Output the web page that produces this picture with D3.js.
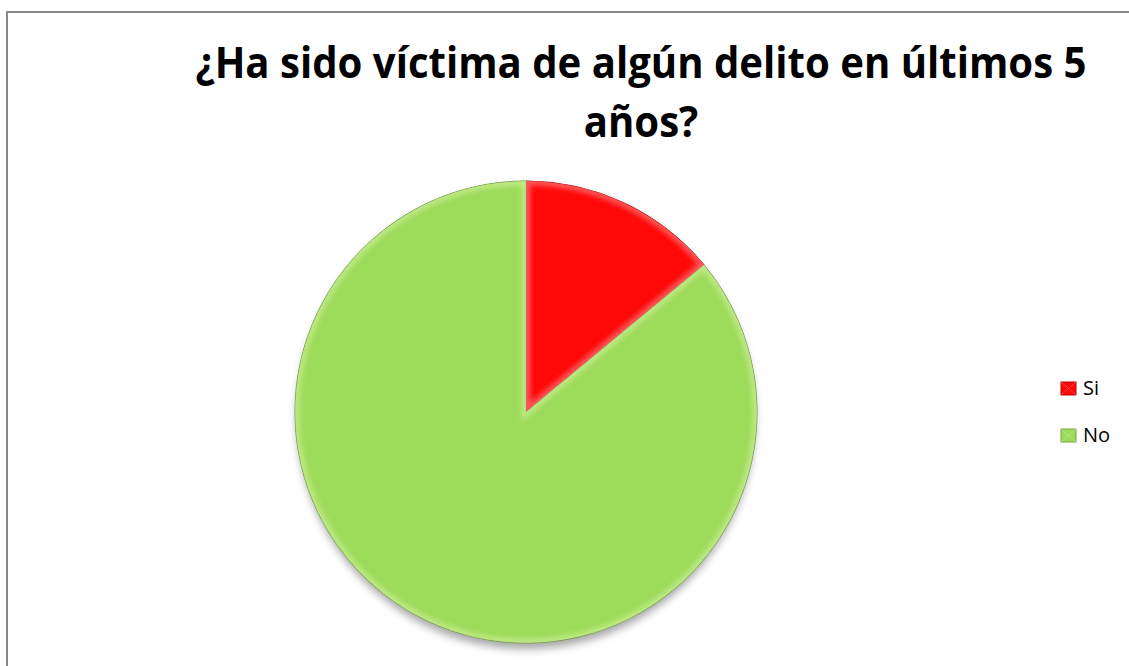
<!DOCTYPE html>
<html>
<head>
<meta charset="utf-8">
<script src="https://cdn.jsdelivr.net/npm/d3@7"></script>
<style>
  html, body { margin: 0; padding: 0; background: #fff; }
  svg { display: block; }
</style>
</head>
<body>
<div id="chart"></div>
<script>
// Survey answers: share of respondents
const categories = ["Si", "No"];
const values = [14, 86];
const colors = ["#FF0808", "#9DDB5A"];
const highlight = ["#FF6A6A", "#C4EC8E"];
const titleLines = ["¿Ha sido víctima de algún delito en últimos 5", "años?"];

const W = 1129, H = 666;
const svg = d3.select("#chart").append("svg").attr("width", W).attr("height", H);
const defs = svg.append("defs");

// chart frame
svg.append("rect")
  .attr("x", 7).attr("y", 12).attr("width", W + 10).attr("height", H + 10)
  .attr("fill", "#fff").attr("stroke", "#888").attr("stroke-width", 2);

// title, condensed horizontally so the first line spans the plot width
const titleCx = 641, titleW = 891;
const titleG = svg.append("g");
const title = titleG.append("text")
  .attr("text-anchor", "middle")
  .attr("font-family", "'Open Sans', 'Liberation Sans', sans-serif")
  .attr("font-weight", "bold")
  .attr("font-size", 43)
  .attr("fill", "#000");
title.selectAll("tspan").data(titleLines).join("tspan")
  .attr("x", 0).attr("y", (d, i) => 78 + i * 59)
  .text(d => d);
const w0 = title.select("tspan").node().getComputedTextLength();
titleG.attr("transform", `translate(${titleCx},0) scale(${titleW / w0},1)`);

// pie
const cx = 526, cy = 412, R = 231;
const pie = d3.pie().sort(null).value(d => d);
const arcs = pie(values);
const arc = d3.arc().innerRadius(0).outerRadius(R);

// soft shadow under the pie
const sh = defs.append("filter").attr("id", "shadow")
  .attr("x", "-20%").attr("y", "-20%").attr("width", "140%").attr("height", "140%");
sh.append("feGaussianBlur").attr("stdDeviation", 4);

const bevel = defs.append("filter").attr("id", "bevel")
  .attr("x", "-10%").attr("y", "-10%").attr("width", "120%").attr("height", "120%");
bevel.append("feGaussianBlur").attr("stdDeviation", 2.5);

const g = svg.append("g").attr("transform", `translate(${cx},${cy})`);

g.append("ellipse")
  .attr("cx", 0).attr("cy", 6).attr("rx", R - 2).attr("ry", R)
  .attr("fill", "#000").attr("opacity", 0.35)
  .attr("filter", "url(#shadow)");

arcs.forEach((a, i) => {
  defs.append("clipPath").attr("id", "clip" + i)
    .append("path").attr("transform", `translate(${cx},${cy})`).attr("d", arc(a));
});

g.selectAll("path.slice").data(arcs).join("path")
  .attr("class", "slice")
  .attr("d", arc)
  .attr("fill", (d, i) => colors[i])
  .attr("stroke", (d, i) => d3.color(colors[i]).darker(1.2))
  .attr("stroke-width", 1);

// bevelled rim highlight inside each slice
const rims = svg.append("g");
arcs.forEach((a, i) => {
  rims.append("g").attr("clip-path", `url(#clip${i})`)
    .append("path")
    .attr("transform", `translate(${cx},${cy})`)
    .attr("d", arc(a))
    .attr("fill", "none")
    .attr("stroke", highlight[i])
    .attr("stroke-width", 9)
    .attr("opacity", 0.8)
    .attr("filter", "url(#bevel)");
});

// legend
const leg = svg.append("g").attr("font-family", "'Open Sans', 'Liberation Sans', sans-serif")
  .attr("font-size", 20);
const items = leg.selectAll("g").data(categories).join("g")
  .attr("transform", (d, i) => `translate(1061,${382 + i * 47})`);
items.append("rect")
  .attr("width", 15).attr("height", 13)
  .attr("fill", (d, i) => colors[i])
  .attr("stroke", (d, i) => d3.color(colors[i]).darker(0.8))
  .attr("stroke-width", 1);
items.append("path")
  .attr("d", "M0,0L15,13M15,0L0,13")
  .attr("stroke", (d, i) => highlight[i])
  .attr("stroke-width", 1)
  .attr("opacity", 0.6);
items.append("text")
  .attr("x", 22).attr("y", 13)
  .text(d => d);
</script>
</body>
</html>
